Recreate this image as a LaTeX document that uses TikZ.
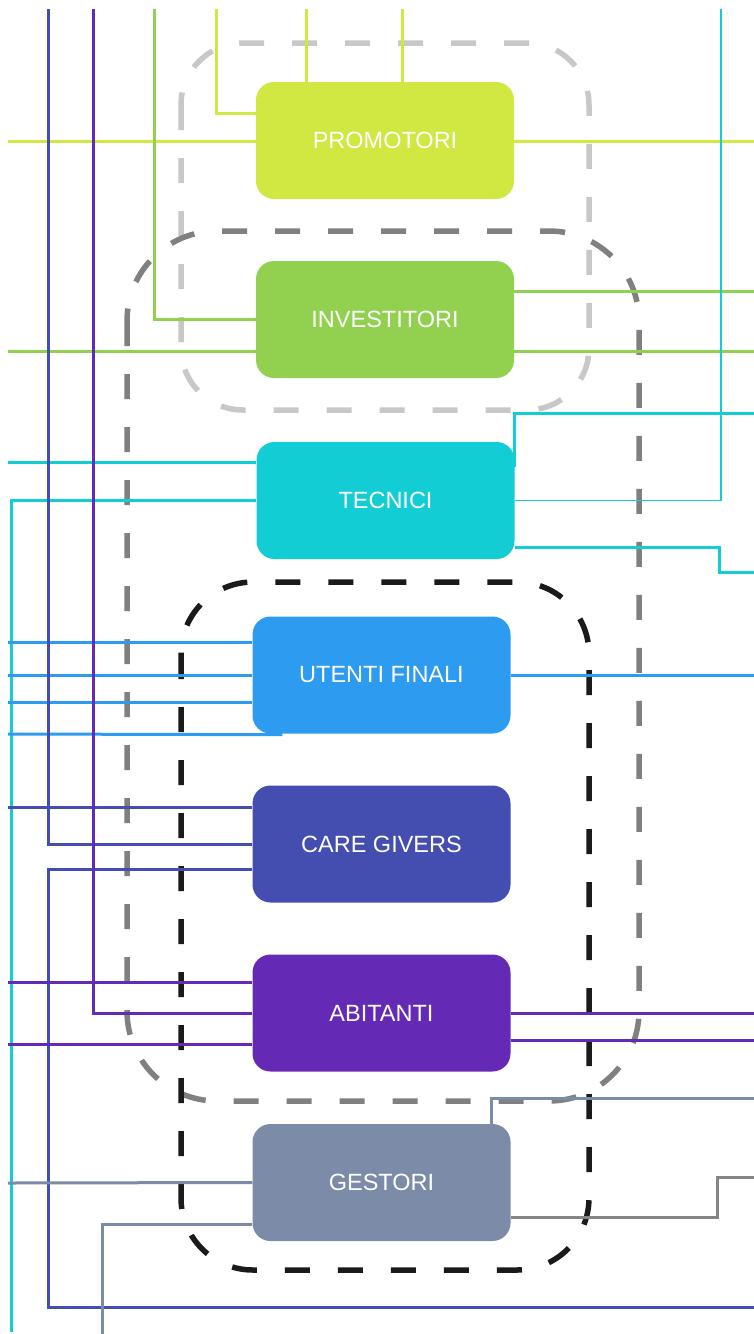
\documentclass[tikz,border=0pt]{standalone}
\usepackage{fontspec}
\setmainfont{Liberation Sans}
\definecolor{cLime}{HTML}{D0E841}
\definecolor{cGreen}{HTML}{92D050}
\definecolor{cCyan}{HTML}{13CDD4}
\definecolor{cBlue}{HTML}{2D9BEF}
\definecolor{cIndigo}{HTML}{444DB0}
\definecolor{cPurple}{HTML}{642AB5}
\definecolor{cSlate}{HTML}{7B8BA8}
\definecolor{cGray}{HTML}{858585}
\definecolor{cFrameLight}{HTML}{C8C8C8}
\definecolor{cFrameMid}{HTML}{808080}
\definecolor{cFrameDark}{HTML}{1A1A1A}
\tikzset{
  role/.style={rectangle, rounded corners=18pt, minimum width=258pt,
    minimum height=117pt, inner sep=0pt, text=white,
    font=\fontsize{23.5}{27}\selectfont},
  wire/.style={line width=3pt},
  hair/.style={line width=1.3pt},
  frame/.style={line width=5.5pt, dash pattern=on 25pt off 28pt},
}
\begin{document}
\begin{tikzpicture}[x=1pt,y=-1pt]
\useasboundingbox (0,0) rectangle (754,1334);

% dashed groupings
\draw[frame, cFrameLight, rounded corners=62pt] (181,43) rectangle (589,410);
\draw[frame, cFrameMid, rounded corners=90pt] (127,231) rectangle (639,1101);
\draw[frame, cFrameDark, rounded corners=72pt] (181,582) rectangle (589,1270);

% stakeholder boxes
\node[role, fill=cLime]   (prom) at (385,140.5)  {\raisebox{-1.5pt}{PROMOTORI}};
\node[role, fill=cGreen]  (inv)  at (385,319.5)  {\raisebox{-1.5pt}{INVESTITORI}};
\node[role, fill=cCyan]   (tec)  at (385.5,500.5) {\raisebox{-1.5pt}{TECNICI}};
\node[role, fill=cBlue]   (ute)  at (381.5,675)  {\raisebox{-1.5pt}{UTENTI FINALI}};
\node[role, fill=cIndigo] (care) at (381.5,844)  {\raisebox{-1.5pt}{CARE GIVERS}};
\node[role, fill=cPurple] (abi)  at (381.5,1013) {\raisebox{-1.5pt}{ABITANTI}};
\node[role, fill=cSlate]  (ges)  at (381.5,1182.5) {\raisebox{-1.5pt}{GESTORI}};

% free ends on the page margins
\coordinate (tA) at (216,9);
\coordinate (tB) at (306,9);
\coordinate (tC) at (402,9);
\coordinate (tD) at (154,9);
\coordinate (tE) at (721,9);
\coordinate (tF) at (93,9);
\coordinate (tG) at (48,9);
\coordinate (bCyan) at (11,1332);
\coordinate (bSlate) at (102,1334);
\coordinate (bIndigo) at (48,1307);
\coordinate (rIndigo) at (754,1307);

% promotori
\draw[wire, cLime] (8,141) -- (prom.west |- 8,141);
\draw[wire, cLime] (prom.east |- 8,141) -- (754,141);
\draw[wire, cLime] (tA) |- ([yshift=27.5]prom.west);
\draw[wire, cLime] (tB) -- (tB |- prom.north);
\draw[wire, cLime] (tC) -- (tC |- prom.north);

% investitori
\draw[wire, cGreen] (tD) |- (inv.west);
\draw[wire, cGreen] (8,351) -- ([yshift=-31.5]inv.west);
\draw[wire, cGreen] ([yshift=28.5]inv.east) -- (754,291);
\draw[wire, cGreen] ([yshift=-31.5]inv.east) -- (754,351);

% tecnici
\draw[hair, cCyan] (tec.east) -| (tE);
\draw[wire, cCyan] (8,462) -- ([yshift=38.5]tec.west);
\draw[wire, cCyan] (tec.west) -| (bCyan);
\draw[wire, cCyan] ([yshift=33.5]tec.east) |- (754,413);
\draw[wire, cCyan] ([yshift=-46.5]tec.east) -- (719,547) -- (719,572) -- (754,572);

% utenti finali
\draw[wire, cBlue] (8,642) -- ([yshift=33]ute.west);
\draw[wire, cBlue] (8,675) -- (ute.west);
\draw[wire, cBlue] (8,702) -- ([yshift=-27]ute.west);
\draw[wire, cBlue] (8,734) -- ([xshift=30,yshift=-1]ute.south west);
\draw[wire, cBlue] (ute.east) -- (754,675);

% care givers
\draw[wire, cIndigo] (tG) |- (care.west);
\draw[wire, cIndigo] (8,807) -- ([yshift=37]care.west);
\draw[wire, cIndigo] ([yshift=-25]care.west) -| (bIndigo) -- (rIndigo);

% abitanti
\draw[wire, cPurple] (tF) |- (abi.west);
\draw[wire, cPurple] (8,982) -- ([yshift=31]abi.west);
\draw[wire, cPurple] (8,1044) -- ([yshift=-31]abi.west);
\draw[wire, cPurple] (abi.east) -- (754,1013);
\draw[wire, cPurple] ([yshift=-27]abi.east) -- (754,1040);

% gestori
\draw[wire, cSlate] (8,1183) -- (ges.west);
\draw[wire, cSlate] ([yshift=-41.5]ges.west) -| (bSlate);
\draw[wire, cSlate] (ges.north -| 491,0) |- (754,1098);
\draw[wire, cGray] ([yshift=-34.5]ges.east) -- (717,1217) -- (717,1177) -- (754,1177);
\end{tikzpicture}
\end{document}
